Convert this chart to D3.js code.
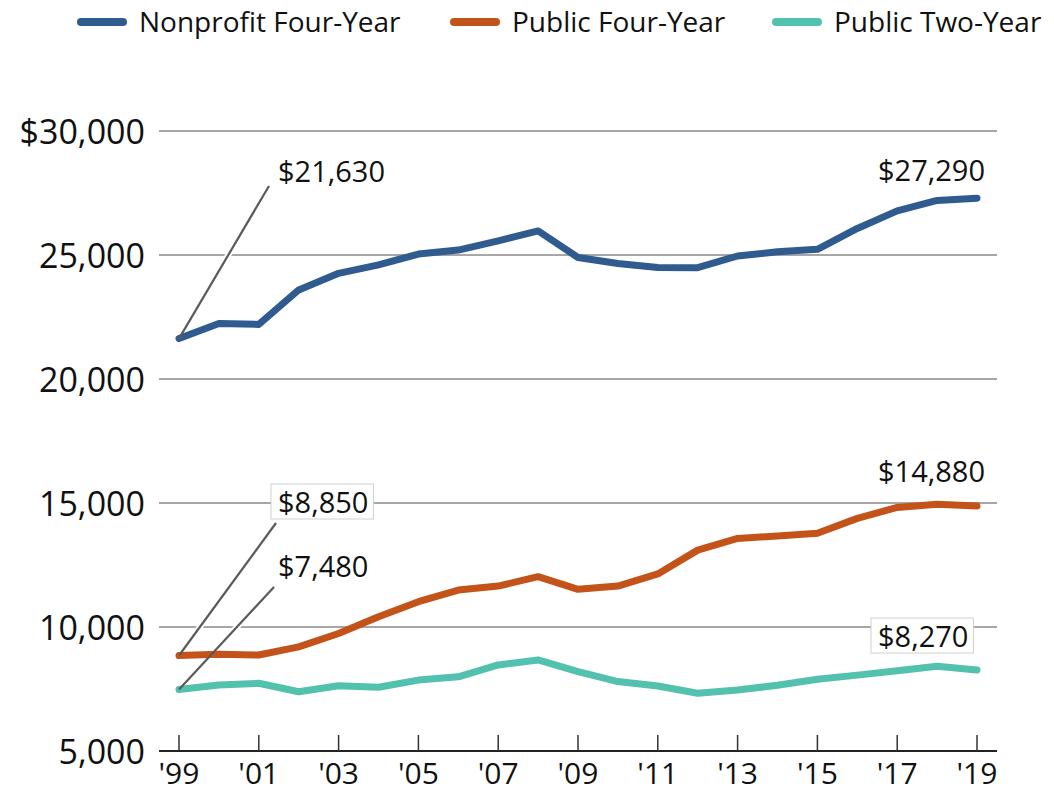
<!DOCTYPE html>
<html>
<head>
<meta charset="utf-8">
<script src="https://cdn.jsdelivr.net/npm/d3@7"></script>
<style>
    body { margin: 0; background: #fff; }
    svg { display: block; font-family: "Open Sans", "Noto Sans", sans-serif; }
</style>
</head>
<body>
<div id="chart"></div>
<script>
// Data
const years = d3.range(1999, 2020);
const nonprofitFour = [21630, 22240, 22200, 23590, 24260, 24600, 25040, 25200, 25570, 25970,
    24900, 24660, 24500, 24490, 24960, 25130, 25230, 26070, 26780, 27200, 27290];
const publicFour = [8850, 8900, 8870, 9200, 9740, 10410, 11020, 11490, 11650, 12030,
    11520, 11650, 12140, 13100, 13570, 13670, 13780, 14380, 14820, 14950, 14880];
const publicTwo = [7480, 7660, 7730, 7390, 7630, 7570, 7860, 7990, 8470, 8670,
    8200, 7800, 7620, 7330, 7460, 7650, 7890, 8060, 8240, 8420, 8270];
const seriesNames = ['Nonprofit Four-Year', 'Public Four-Year', 'Public Two-Year'];
const yTicks = [5000, 10000, 15000, 20000, 25000, 30000];
const xTicks = [1999, 2001, 2003, 2005, 2007, 2009, 2011, 2013, 2015, 2017, 2019];

const width = 1054;
const height = 794;
const colors = ['#2f5b8f', '#c4531a', '#52c1ae'];

const x = d3.scaleLinear().domain([1999, 2019]).range([179, 977]);
const y = d3.scaleLinear().domain([5000, 30000]).range([751, 131]);

const series = [nonprofitFour, publicFour, publicTwo].map((vals, i) => ({
    name: seriesNames[i],
    color: colors[i],
    values: vals.map((v, j) => ({ year: years[j], value: v }))
}));

const svg = d3.select('#chart')
    .append('svg')
    .attr('width', width)
    .attr('height', height);

// Gridlines
svg.append('g')
    .selectAll('line')
    .data(yTicks.filter(t => t > 5000))
    .enter()
    .append('line')
    .attr('x1', 159)
    .attr('x2', 997)
    .attr('y1', d => y(d))
    .attr('y2', d => y(d))
    .attr('stroke', '#8a8a8a')
    .attr('stroke-width', 1.6);

// Y axis labels
svg.append('g')
    .selectAll('text')
    .data(yTicks)
    .enter()
    .append('text')
    .attr('x', 145)
    .attr('y', d => y(d))
    .attr('dy', '0.37em')
    .attr('text-anchor', 'end')
    .style('font-size', '34px')
    .style('fill', '#111')
    .text(d => (d === 30000 ? '$' : '') + d3.format(',')(d));

// X axis (line + ticks pointing up)
const xAxis = svg.append('g');
xAxis.append('line')
    .attr('x1', 159)
    .attr('x2', 997)
    .attr('y1', y(5000))
    .attr('y2', y(5000))
    .attr('stroke', '#222')
    .attr('stroke-width', 2);
xAxis.selectAll('.tick')
    .data(xTicks)
    .enter()
    .append('line')
    .attr('x1', d => x(d))
    .attr('x2', d => x(d))
    .attr('y1', y(5000) - 16)
    .attr('y2', y(5000))
    .attr('stroke', '#333')
    .attr('stroke-width', 1.5);
xAxis.selectAll('text')
    .data(xTicks)
    .enter()
    .append('text')
    .attr('x', d => x(d))
    .attr('y', 784)
    .attr('text-anchor', 'middle')
    .style('font-size', '30px')
    .style('fill', '#111')
    .text(d => "'" + String(d).slice(2));

// Annotations: leader lines from first point, labels at ends
const annotations = [
    { s: 0, year: 1999, text: '$21,630', lx: 269, ly: 186, tx: 278, ty: 182, anchor: 'start', box: false },
    { s: 0, year: 2019, text: '$27,290', tx: 985, ty: 181, anchor: 'end', box: false },
    { s: 1, year: 1999, text: '$8,850', lx: 276, ly: 523, tx: 278, ty: 513, anchor: 'start', box: true },
    { s: 2, year: 1999, text: '$7,480', lx: 274, ly: 587, tx: 278, ty: 577, anchor: 'start', box: false },
    { s: 1, year: 2019, text: '$14,880', tx: 985, ty: 482, anchor: 'end', box: false },
    { s: 2, year: 2019, text: '$8,270', tx: 878, ty: 647, anchor: 'start', box: true }
];
const pointOf = a => series[a.s].values.find(p => p.year === a.year);
const leaders = annotations.filter(a => a.lx !== undefined);

// white halos under leader lines (cut the gridlines)
svg.append('g')
    .selectAll('line')
    .data(leaders)
    .enter()
    .append('line')
    .attr('x1', a => x(a.year))
    .attr('y1', a => y(pointOf(a).value))
    .attr('x2', a => a.lx)
    .attr('y2', a => a.ly)
    .attr('stroke', '#fff')
    .attr('stroke-width', 6);

// Data lines
const line = d3.line()
    .x(d => x(d.year))
    .y(d => y(d.value));

svg.append('g')
    .selectAll('path')
    .data(series)
    .enter()
    .append('path')
    .attr('d', d => line(d.values))
    .attr('fill', 'none')
    .attr('stroke', d => d.color)
    .attr('stroke-width', 7)
    .attr('stroke-linejoin', 'round')
    .attr('stroke-linecap', 'round');

// Leader lines
svg.append('g')
    .selectAll('line')
    .data(leaders)
    .enter()
    .append('line')
    .attr('x1', a => x(a.year))
    .attr('y1', a => y(pointOf(a).value))
    .attr('x2', a => a.lx)
    .attr('y2', a => a.ly)
    .attr('stroke', '#5a5a5a')
    .attr('stroke-width', 2.2);

// Labels (with optional white box)
const labels = svg.append('g')
    .selectAll('g')
    .data(annotations)
    .enter()
    .append('g');

labels.append('text')
    .attr('x', a => a.tx)
    .attr('y', a => a.ty)
    .attr('text-anchor', a => a.anchor)
    .style('font-size', '29px')
    .style('fill', '#111')
    .text(a => a.text);

labels.filter(a => a.box).each(function() {
    const g = d3.select(this);
    const bb = g.select('text').node().getBBox();
    g.insert('rect', 'text')
        .attr('x', bb.x - 7)
        .attr('y', bb.y + 2)
        .attr('width', bb.width + 12)
        .attr('height', bb.height - 4)
        .attr('fill', '#fff')
        .attr('stroke', '#d0d0d0')
        .attr('stroke-width', 1);
});

// Legend
const legendPos = [77, 450, 772];
const legend = svg.append('g')
    .selectAll('g')
    .data(series)
    .enter()
    .append('g')
    .attr('transform', (d, i) => `translate(${legendPos[i]},22)`);

legend.append('line')
    .attr('x1', 4)
    .attr('x2', 46)
    .attr('stroke', d => d.color)
    .attr('stroke-width', 8)
    .attr('stroke-linecap', 'round');

legend.append('text')
    .attr('x', 62)
    .attr('dy', '0.36em')
    .style('font-size', '28px')
    .style('fill', '#111')
    .text(d => d.name);
</script>
</body>
</html>
